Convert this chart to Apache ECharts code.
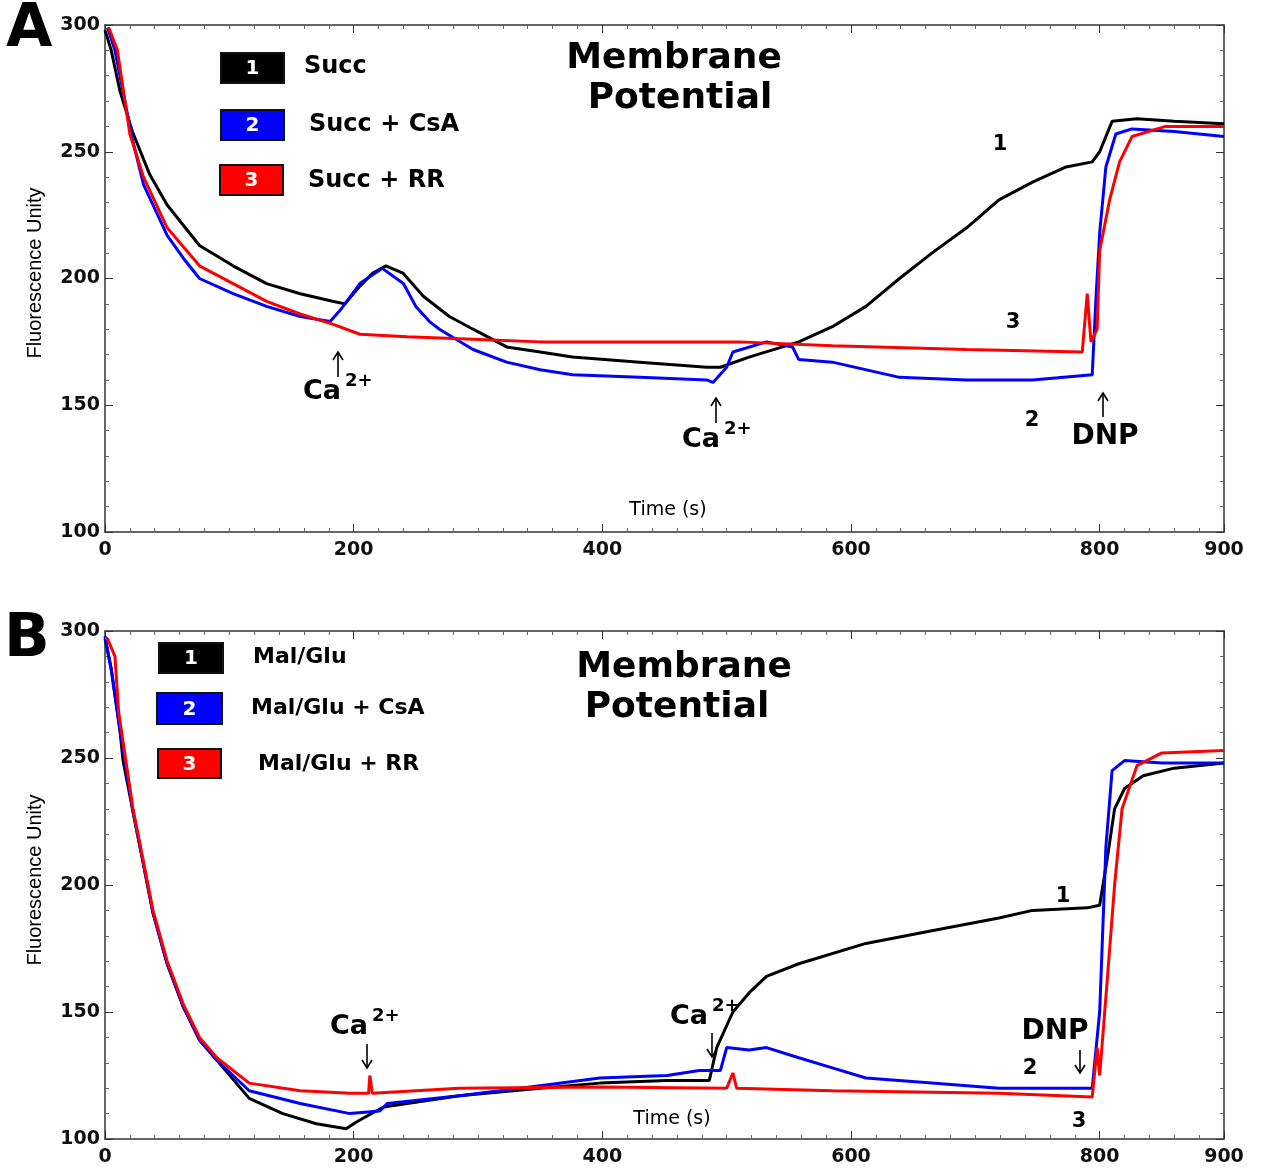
<!DOCTYPE html>
<html>
<head>
<meta charset="utf-8">
<script src="https://cdn.jsdelivr.net/npm/echarts@6.0.0/dist/echarts.min.js"></script>
<style>
  html, body { margin: 0; padding: 0; background: #fff; }
  #chart { width: 1261px; height: 1171px; }
</style>
</head>
<body>
<div id="chart"></div>
<script>
// panel A - succinate
const tA1 = [0, 5, 12, 22, 36, 50, 63, 76, 103, 130, 157, 183, 193, 205, 215, 226, 240, 256, 277, 296, 323, 350, 376, 430, 484, 495, 518, 558, 585, 612, 639, 665, 693, 719, 746, 773, 794, 800, 810, 830, 860, 900];
const vA1 = [298, 290, 274, 258, 241, 229, 221, 213, 205, 198, 194, 191, 190, 197, 202, 205, 202, 193, 185, 180, 173, 171, 169, 167, 165, 165, 169, 175, 181, 189, 200, 210, 220, 231, 238, 244, 246, 250, 262, 263, 262, 261];
const tA2 = [2, 8, 22, 31, 50, 63, 76, 103, 130, 157, 181, 190, 205, 223, 240, 250, 261, 269, 296, 323, 350, 376, 430, 484, 489, 500, 505, 532, 553, 558, 585, 639, 693, 746, 794, 797, 800, 805, 813, 826, 860, 900];
const vA2 = [299, 290, 255, 237, 217, 208, 200, 194, 189, 185, 183, 188, 198, 204, 198, 189, 183, 180, 172, 167, 164, 162, 161, 160, 159, 165, 171, 175, 173, 168, 167, 161, 160, 160, 162, 192, 218, 244, 257, 259, 258, 256];
const tA3 = [3, 10, 20, 31, 50, 76, 103, 130, 157, 183, 205, 243, 296, 350, 403, 456, 510, 585, 693, 786, 790, 793, 798, 800, 808, 816, 826, 853, 900];
const vA3 = [299, 290, 257, 240, 220, 205, 198, 191, 186, 182, 178, 177, 176, 175, 175, 175, 175, 173.5, 172, 171, 194, 175, 180, 211, 231, 246, 256, 260, 260];

// panel B - malate/glutamate
const tB1 = [0, 5, 12, 14.5, 22.5, 31, 38.6, 50, 63, 76, 90, 116, 143, 170, 194, 200, 205, 224, 285, 350, 398, 452, 486, 492, 505, 518, 532, 558, 612, 665, 719, 746, 790, 800, 806, 812, 820, 835, 860, 900];
const vB1 = [297, 285, 261, 249, 229, 208, 189, 169, 152, 139, 131, 116, 110, 106, 104, 106, 107.5, 112.6, 117, 120, 122, 123, 123, 136, 150, 157.5, 164, 169, 177, 182, 187, 190, 191, 192, 210, 230, 238, 243, 246, 248];
const tB2 = [0, 5, 12, 22.5, 31, 38.6, 50, 63, 76, 90, 116, 157, 197, 221, 227, 285, 350, 398, 452, 478, 495, 500, 518, 532, 558, 585, 612, 665, 719, 794, 800, 805, 810, 820, 850, 900];
const vB2 = [298, 285, 261, 229, 208, 189, 169, 152, 139, 131, 119, 114, 110, 111, 114, 117, 121, 124, 125, 127, 127, 136, 135, 136, 132, 128, 124, 122, 120, 120, 150, 215, 245, 249, 248, 248];
const tB3 = [0, 2, 8, 11, 22.5, 31, 38.6, 50, 63, 76, 90, 116, 157, 197, 212, 213, 215, 285, 398, 500, 505, 508, 585, 719, 794, 798, 800, 806, 812, 818, 830, 850, 900];
const vB3 = [297, 297, 290, 268, 230, 209, 190, 170, 153, 140, 132, 122, 119, 118, 118, 125, 118, 120, 120.5, 120, 126, 120, 119, 118, 116.5, 136, 125, 162, 200, 230, 247, 252, 253];

const colors = ['#000000', '#0000ff', '#ff0000'];

const chart = echarts.init(document.getElementById('chart'));
const FONT = '"DejaVu Sans", Verdana, sans-serif';
const AXFONT = '"Liberation Sans", Arial, sans-serif';
const axisColor = '#333';

function pairs(t, v) {
  return t.map((x, i) => [x, v[i]]);
}

function xAxes(gi) {
  const base = {
    gridIndex: gi, type: 'value', min: 0, max: 900, interval: 200,
    axisLine: { show: true, onZero: false, lineStyle: { color: axisColor, width: 1.5 } },
    axisTick: { show: true, inside: true, length: 8, lineStyle: { color: axisColor } },
    minorTick: { show: true, splitNumber: 10, length: 4, lineStyle: { color: '#666' } },
    splitLine: { show: false },
  };
  return [
    { ...base, position: 'bottom', axisLabel: { show: true, margin: 9, color: '#111', fontFamily: FONT, fontWeight: 'bold', fontSize: 19 } },
    { ...base, position: 'top', axisLabel: { show: false } },
  ];
}

function yAxes(gi) {
  const base = {
    gridIndex: gi, type: 'value', min: 100, max: 300, interval: 50,
    axisLine: { show: true, onZero: false, lineStyle: { color: axisColor, width: 1.5 } },
    axisTick: { show: true, inside: true, length: 8, lineStyle: { color: axisColor } },
    minorTick: { show: true, splitNumber: 5, length: 4, lineStyle: { color: '#666' } },
    splitLine: { show: false },
  };
  return [
    { ...base, position: 'left', axisLabel: { show: true, margin: 5, color: '#111', fontFamily: FONT, fontWeight: 'bold', fontSize: 19 } },
    { ...base, position: 'right', axisLabel: { show: false } },
  ];
}

function line(name, t, v, color, gi) {
  return {
    name, type: 'line', xAxisIndex: gi * 2, yAxisIndex: gi * 2,
    data: pairs(t, v), showSymbol: false, symbol: 'none',
    lineStyle: { color, width: 3 }, itemStyle: { color },
    animation: false, z: 3,
  };
}

function txt(x, y, s, size, opts) {
  opts = opts || {};
  return {
    type: 'text', x, y, z: 10, rotation: opts.rotation || 0,
    style: {
      text: s, fill: opts.fill || '#000',
      font: (opts.weight || 'bold') + ' ' + size + 'px ' + (opts.family || FONT),
      textAlign: opts.align || 'left', textVerticalAlign: 'middle',
    },
  };
}

function box(x, y, w, h, fill, num) {
  return [
    { type: 'rect', z: 10, shape: { x, y, width: w, height: h }, style: { fill, stroke: '#111', lineWidth: 2 } },
    txt(x + w / 2, y + h / 2 + 1, num, 20, { fill: '#fff', align: 'center' }),
  ];
}

// vertical arrow; dir -1 points up, +1 points down
function arrow(x, y0, y1, dir) {
  const tip = dir < 0 ? Math.min(y0, y1) : Math.max(y0, y1);
  return [
    { type: 'line', z: 10, shape: { x1: x, y1: y0, x2: x, y2: y1 }, style: { stroke: '#000', lineWidth: 1.6 } },
    { type: 'polyline', z: 10, shape: { points: [[x - 5, tip - dir * 8], [x, tip], [x + 5, tip - dir * 8]] }, style: { stroke: '#000', lineWidth: 1.6, fill: null } },
  ];
}

function ca(x, y) {
  return [
    txt(x, y, 'Ca', 27),
    txt(x + 42, y - 11, '2+', 18),
  ];
}

const graphics = [
  // panel A
  txt(6, 30, 'A', 60),
  ...box(221, 53, 63, 30, '#000', '1'),
  ...box(221, 110, 63, 30, '#0000ff', '2'),
  ...box(220, 165, 63, 30, '#ff0000', '3'),
  txt(304, 67, 'Succ', 24),
  txt(309, 125, 'Succ + CsA', 24),
  txt(308, 181, 'Succ + RR', 24),
  txt(674, 59, 'Membrane', 36, { align: 'center' }),
  txt(680, 99, 'Potential', 36, { align: 'center' }),
  txt(35, 273, 'Fluorescence Unity', 20, { weight: 'normal', align: 'center', rotation: Math.PI / 2, family: AXFONT }),
  txt(668, 510, 'Time (s)', 19, { weight: 'normal', align: 'center' }),
  ...arrow(338, 377, 352, -1),
  ...ca(303, 392),
  ...arrow(716, 423, 398, -1),
  ...ca(682, 440),
  txt(1000, 145, '1', 21, { align: 'center' }),
  txt(1013, 323, '3', 21, { align: 'center' }),
  txt(1032, 421, '2', 21, { align: 'center' }),
  ...arrow(1103, 417, 393, -1),
  txt(1105, 437, 'DNP', 28, { align: 'center' }),

  // panel B
  txt(4, 640, 'B', 60),
  ...box(159, 643, 64, 30, '#000', '1'),
  ...box(157, 693, 65, 31, '#0000ff', '2'),
  ...box(158, 749, 63, 29, '#ff0000', '3'),
  txt(253, 657, 'Mal/Glu', 22),
  txt(251, 708, 'Mal/Glu + CsA', 22),
  txt(258, 764, 'Mal/Glu + RR', 22),
  txt(684, 668, 'Membrane', 36, { align: 'center' }),
  txt(677, 708, 'Potential', 36, { align: 'center' }),
  txt(35, 880, 'Fluorescence Unity', 20, { weight: 'normal', align: 'center', rotation: Math.PI / 2, family: AXFONT }),
  txt(672, 1119, 'Time (s)', 19, { weight: 'normal', align: 'center' }),
  ...ca(330, 1027),
  ...arrow(367, 1044, 1068, 1),
  ...ca(670, 1017),
  ...arrow(712, 1033, 1057, 1),
  txt(1063, 897, '1', 21, { align: 'center' }),
  txt(1030, 1069, '2', 21, { align: 'center' }),
  txt(1079, 1122, '3', 21, { align: 'center' }),
  txt(1055, 1032, 'DNP', 28, { align: 'center' }),
  ...arrow(1080, 1050, 1073, 1),
];

const option = {
  backgroundColor: '#fff',
  animation: false,
  grid: [
    { left: 105, top: 25, width: 1119, height: 507 },
    { left: 105, top: 631, width: 1119, height: 508 },
  ],
  xAxis: [...xAxes(0), ...xAxes(1)],
  yAxis: [...yAxes(0), ...yAxes(1)],
  series: [
    line('Succ', tA1, vA1, colors[0], 0),
    line('Succ + CsA', tA2, vA2, colors[1], 0),
    line('Succ + RR', tA3, vA3, colors[2], 0),
    line('Mal/Glu', tB1, vB1, colors[0], 1),
    line('Mal/Glu + CsA', tB2, vB2, colors[1], 1),
    line('Mal/Glu + RR', tB3, vB3, colors[2], 1),
  ],
  graphic: graphics,
};

chart.setOption(option);
</script>
</body>
</html>
